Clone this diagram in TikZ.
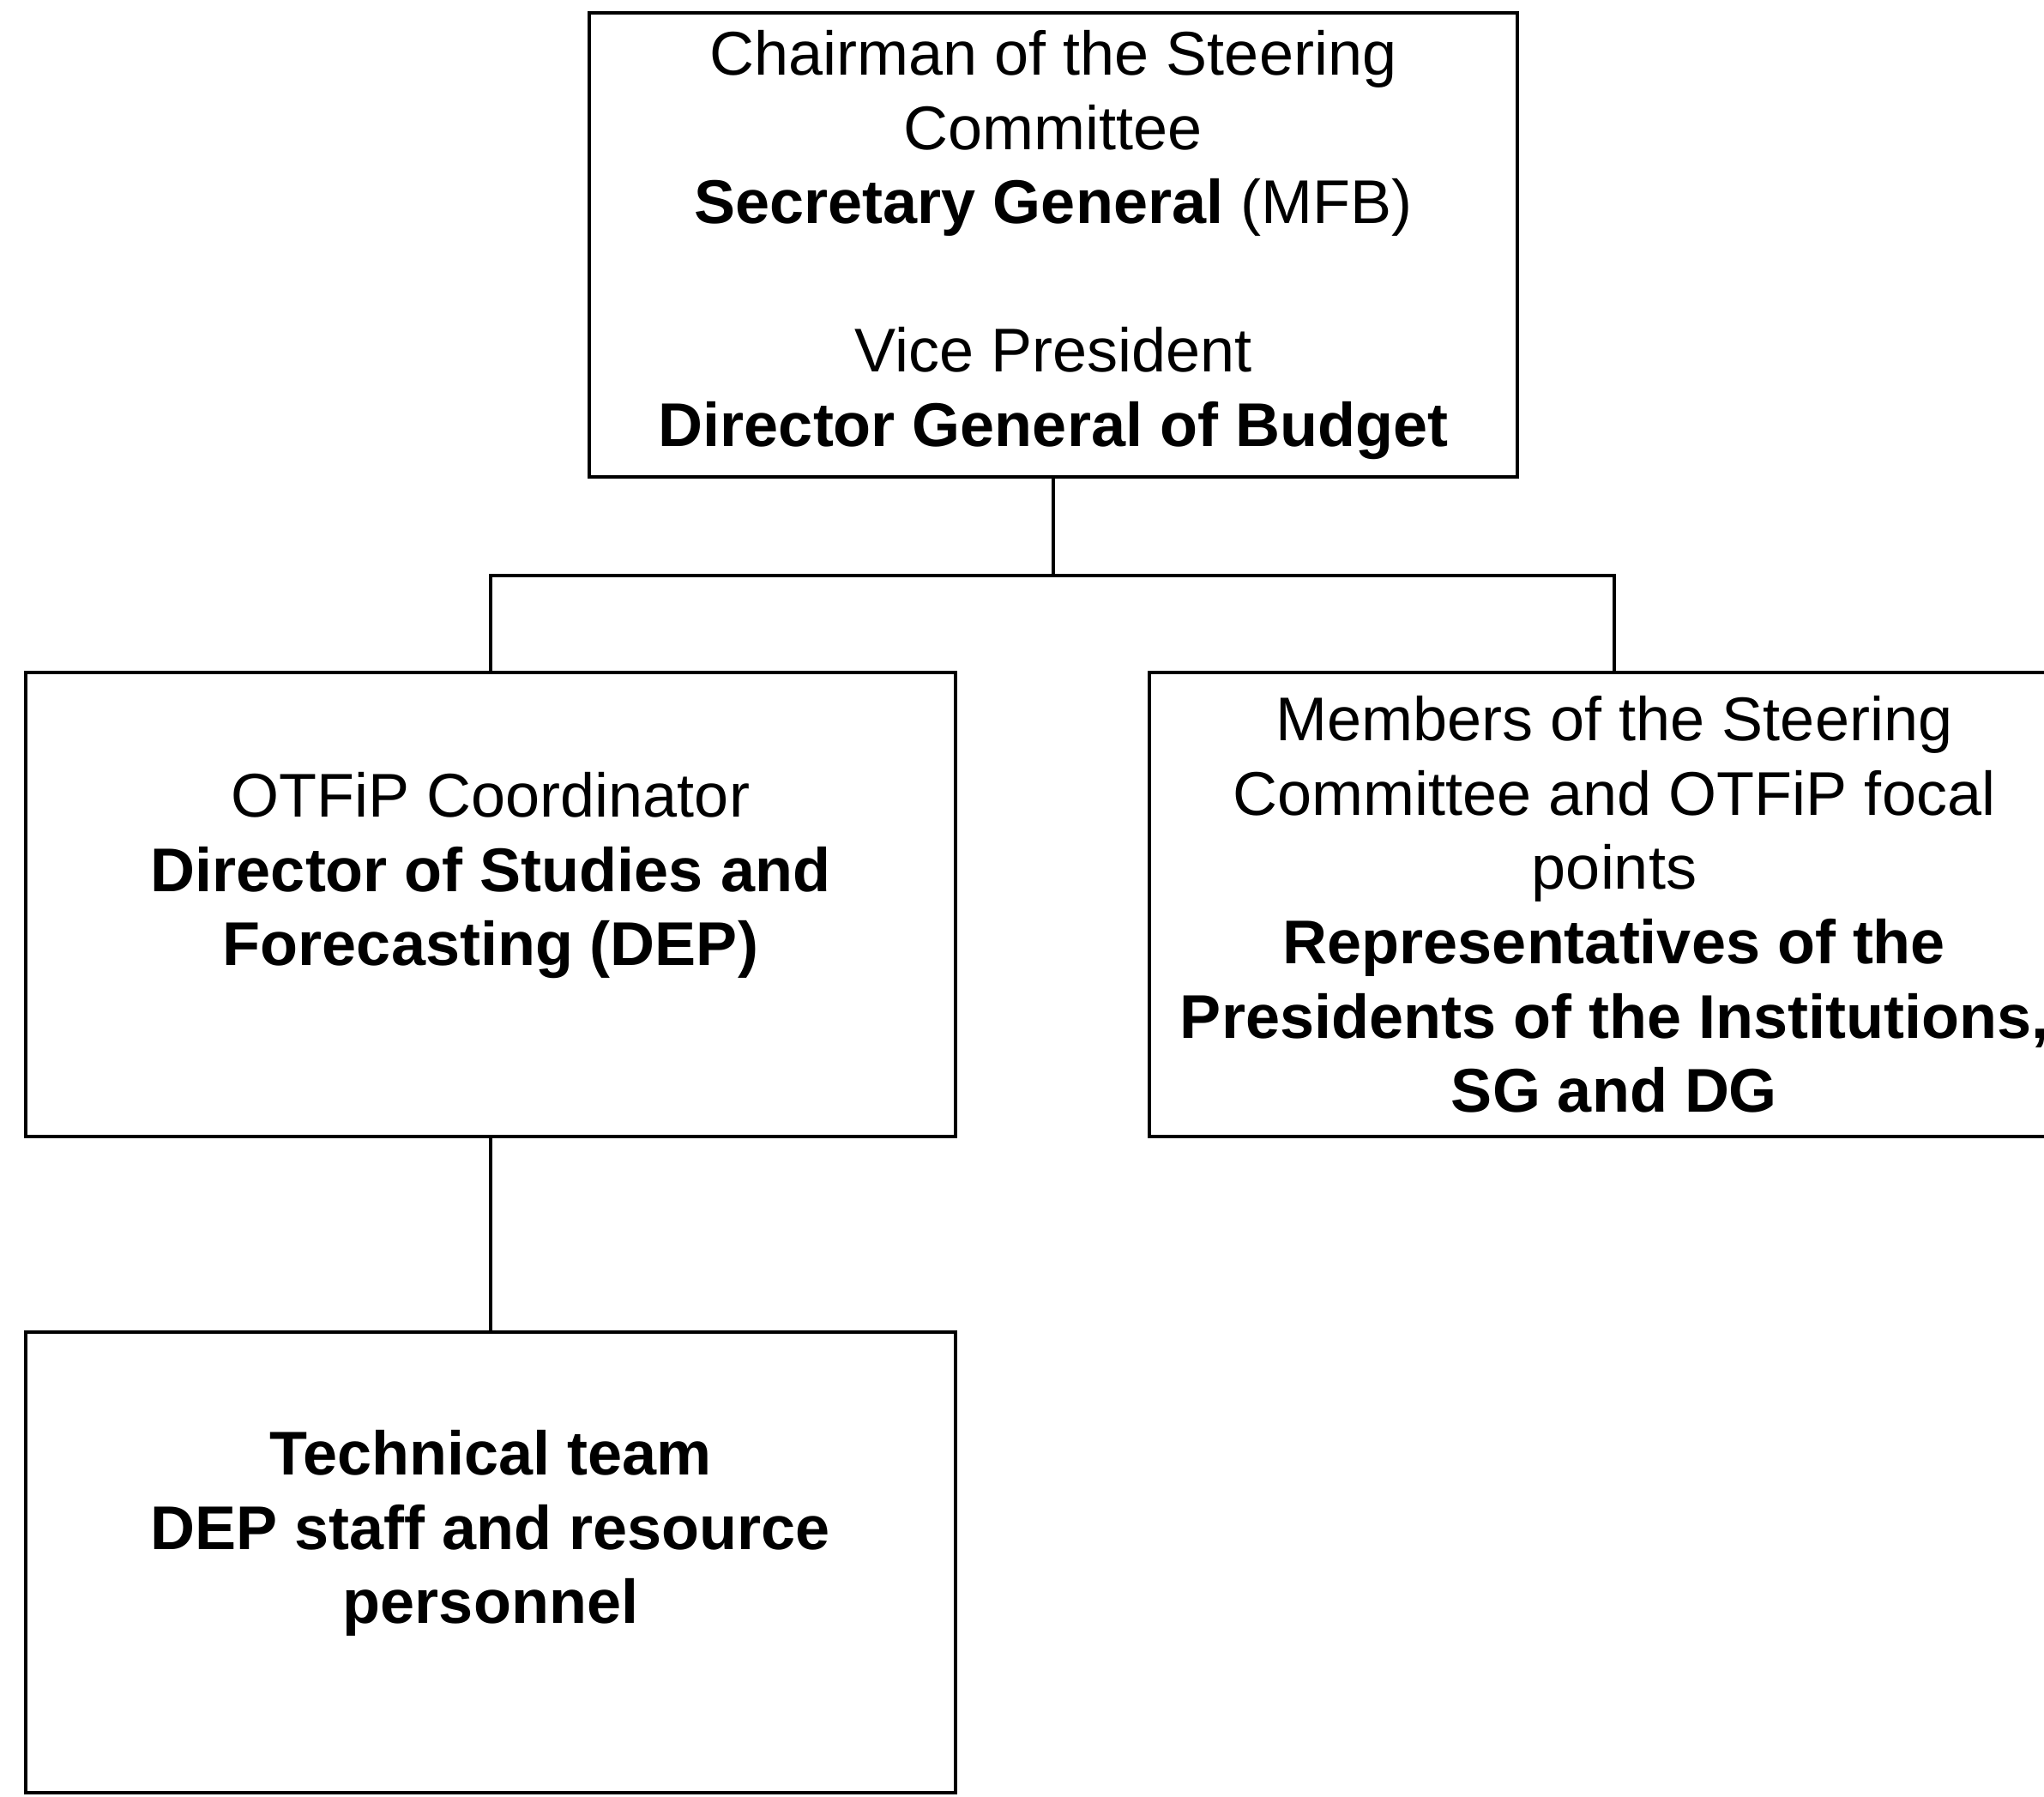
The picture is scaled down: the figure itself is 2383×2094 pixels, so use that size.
\documentclass[tikz,border=0pt]{standalone}
\usepackage{fontspec}
\setmainfont{Liberation Sans}
\begin{document}
\begin{tikzpicture}[x=1pt,y=-1pt,
  box/.style={draw, line width=3.5pt, inner sep=0pt, align=center,
    font=\fontsize{72}{86.6}\selectfont},
  conn/.style={line width=3.5pt}]
\useasboundingbox (0,0) rectangle (2383,2094);
\node[box, minimum width=1082pt, minimum height=541pt] (top) at (1228,285.5)
  {Chairman of the Steering\\Committee\\\textbf{Secretary General} (MFB)\\ \strut\\Vice President\\\textbf{Director General of Budget}};
\node[box, minimum width=1084pt, minimum height=541pt] (left) at (572,1054.5)
  {OTFiP Coordinator\\\textbf{Director of Studies and}\\\textbf{Forecasting (DEP)}\\[-30pt] \strut};
\node[box, minimum width=1084pt, minimum height=541pt] (right) at (1882,1054.5)
  {Members of the Steering\\Committee and OTFiP focal\\points\\\textbf{Representatives of the}\\\textbf{Presidents of the Institutions,}\\\textbf{SG and DG}};
\node[box, minimum width=1084pt, minimum height=537pt] (bottom) at (572,1821.5)
  {\textbf{Technical team}\\\textbf{DEP staff and resource}\\\textbf{personnel}\\[-30pt] \strut};
\path (top.south) ++(0,113) coordinate (j);
\draw[conn] (top.south) -- (j);
\draw[conn] (left.north) |- (j) -| (right.north);
\draw[conn] (left.south) -- (bottom.north);
\end{tikzpicture}
\end{document}
